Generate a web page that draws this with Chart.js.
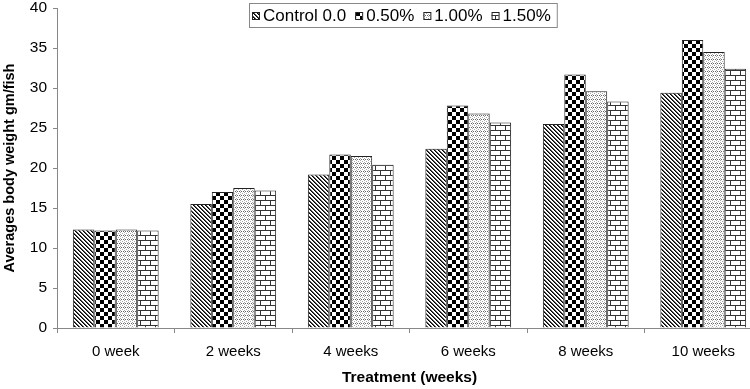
<!DOCTYPE html>
<html>
<head>
<meta charset="utf-8">
<script src="https://cdn.jsdelivr.net/npm/chart.js@4/dist/chart.umd.min.js"></script>
<style>
  html, body { margin: 0; padding: 0; background: #fff; overflow: hidden; }
  .chart-wrapper { width: 762px; height: 389px; }
</style>
</head>
<body>
<div class="chart-wrapper"><canvas id="myChart" width="762" height="389"></canvas></div>
<script>
const weeks = ["0 week", "2 weeks", "4 weeks", "6 weeks", "8 weeks", "10 weeks"];
const seriesNames = ["Control 0.0", "0.50%", "1.00%", "1.50%"];
const control = [12.3, 15.5, 19.2, 22.4, 25.5, 29.4];
const dose050 = [12.2, 17.0, 21.7, 27.8, 31.7, 36.0];
const dose100 = [12.3, 17.5, 21.5, 26.8, 29.6, 34.5];
const dose150 = [12.2, 17.2, 20.4, 25.7, 28.3, 32.4];
const yTicks = { min: 0, max: 40, step: 5 };

const FONT = "'Liberation Sans', Arial, sans-serif";

// little tiles turned into canvas patterns
function makePattern(size, drawTile){
    const c = document.createElement("canvas");
    c.width = size; c.height = size;
    const t = c.getContext("2d");
    t.fillStyle = "#fff";
    t.fillRect(0, 0, size, size);
    drawTile(t);
    return document.getElementById("myChart").getContext("2d").createPattern(c, "repeat");
}

const diagonal = makePattern(4, t => {
    for(let y = 0; y < 4; y++){
        t.fillStyle = "#000";
        t.fillRect(y % 4, y, 1, 1);
        t.fillStyle = "#555";
        t.fillRect((y + 1) % 4, y, 1, 1);
    }
});

const checker = makePattern(8, t => {
    t.fillStyle = "#000";
    t.fillRect(0, 0, 4, 4);
    t.fillRect(4, 4, 4, 4);
});

const dotted = makePattern(4, t => {
    t.fillStyle = "#a8a8a8";
    t.fillRect(0, 0, 1, 1);
    t.fillRect(2, 1, 1, 1);
    t.fillRect(0, 2, 1, 1);
    t.fillStyle = "#666";
    t.fillRect(1, 3, 1, 1);
    t.fillRect(3, 3, 1, 1);
});

const brick = makePattern(10, t => {
    t.fillStyle = "#333";
    t.fillRect(0, 0, 10, 1);
    t.fillRect(0, 5, 10, 1);
    t.fillRect(0, 1, 1, 4);
    t.fillRect(5, 6, 1, 4);
});

const patterns = [diagonal, checker, dotted, brick];
const values = [control, dose050, dose100, dose150];

// legend drawn by hand so it can sit over the plot like in the original
const boxLegend = {
    id: "boxLegend",
    afterDraw(chart){
        const ctx = chart.ctx;
        ctx.save();
        ctx.font = "17px " + FONT;
        ctx.textBaseline = "middle";
        let x = 252;
        const top = 3, h = 24, cy = top + h / 2 + 1;
        const items = chart.data.datasets.map(ds => {
            const w = ctx.measureText(ds.label).width;
            const item = { x, w, ds };
            x += 11 + w + 9;
            return item;
        });
        const right = x - 9 + 6;
        ctx.fillStyle = "#fff";
        ctx.fillRect(249, top, right - 249, h);
        ctx.strokeStyle = "#888";
        ctx.lineWidth = 1;
        ctx.strokeRect(249.5, top + 0.5, right - 249, h);
        items.forEach(it => {
            ctx.fillStyle = it.ds.backgroundColor;
            ctx.fillRect(it.x, cy - 4, 7, 7);
            ctx.strokeStyle = "#222";
            ctx.strokeRect(it.x + 0.5, cy - 3.5, 7, 7);
            ctx.fillStyle = "#000";
            ctx.fillText(it.ds.label, it.x + 11, cy);
        });
        ctx.restore();
    }
};

new Chart(document.getElementById("myChart"), {
    type: "bar",
    data: {
        labels: weeks,
        datasets: seriesNames.map((name, i) => ({
            label: name,
            data: values[i],
            backgroundColor: patterns[i],
            borderColor: "#222",
            borderWidth: 1,
            borderSkipped: "bottom",
            barPercentage: 1,
            categoryPercentage: 0.73
        }))
    },
    options: {
        responsive: false,
        animation: false,
        layout: { padding: { top: 8, right: 0, bottom: 0, left: 0 } },
        plugins: {
            legend: { display: false },
            tooltip: { enabled: false }
        },
        scales: {
            x: {
                afterFit(scale){ scale.height = 61; scale.paddingLeft = 0; scale.paddingRight = 0; },
                grid: {
                    offset: true,
                    drawOnChartArea: false,
                    tickLength: 5,
                    color: "#888"
                },
                border: { color: "#888" },
                ticks: {
                    color: "#000",
                    padding: 10,
                    font: { family: FONT, size: 15 }
                },
                title: {
                    display: true,
                    text: "Treatment (weeks)",
                    color: "#000",
                    padding: { top: 0, bottom: 2 },
                    font: { family: FONT, size: 15.5, weight: "bold" }
                }
            },
            y: {
                min: yTicks.min,
                max: yTicks.max,
                afterFit(scale){ scale.width = 57; scale.paddingTop = 0; scale.paddingBottom = 0; },
                grid: {
                    drawOnChartArea: false,
                    tickLength: 4,
                    color: "#888"
                },
                border: { color: "#888" },
                ticks: {
                    stepSize: yTicks.step,
                    color: "#000",
                    padding: 6,
                    font: { family: FONT, size: 15.5 }
                },
                title: {
                    display: true,
                    text: "Averages body weight gm/fish",
                    color: "#000",
                    padding: { top: 1, bottom: 0 },
                    font: { family: FONT, size: 14.5, weight: "bold" }
                }
            }
        }
    },
    plugins: [boxLegend]
});
</script>
</body>
</html>
